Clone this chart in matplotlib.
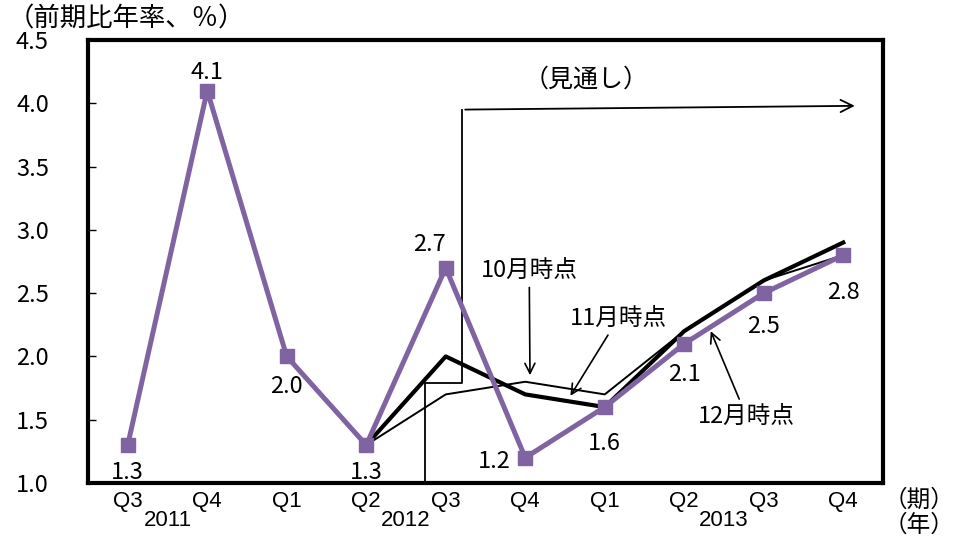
import matplotlib
matplotlib.use('Agg')
import matplotlib.pyplot as plt

plt.rcParams['font.family'] = ['Noto Sans CJK JP', 'DejaVu Sans']

quarters = ['Q3', 'Q4', 'Q1', 'Q2', 'Q3', 'Q4', 'Q1', 'Q2', 'Q3', 'Q4']
years = ['2011', '2012', '2013']
year_pos = [0.5, 3.5, 7.5]

dec = [1.3, 4.1, 2.0, 1.3, 2.7, 1.2, 1.6, 2.1, 2.5, 2.8]   # 12月時点
nov = [1.3, 2.0, 1.7, 1.6, 2.2, 2.6, 2.9]                  # 11月時点 (from 2012 Q2)
oct_ = [1.3, 1.7, 1.8, 1.7, 2.2, 2.6, 2.8]                 # 10月時点 (from 2012 Q2)
start = 3

purple = '#8064A2'
narrow = ['Liberation Sans Narrow', 'Liberation Sans']

fig = plt.figure(figsize=(9.73, 5.39), dpi=100)
ax = fig.add_axes([0.0904, 0.1039, 0.8171, 0.8219])

x = list(range(len(quarters)))
xs = x[start:]
ax.plot(xs, oct_, color='black', lw=1.4, zorder=2)
ax.plot(xs, nov, color='black', lw=3.0, zorder=3)
ax.plot(x, dec, color=purple, lw=3.6, marker='s', markersize=10, zorder=4)

# forecast bracket
ax.plot([3.74, 3.74, 4.21, 4.21], [1.0, 1.79, 1.79, 3.95], color='black', lw=1.3, zorder=1)
ax.annotate('', xy=(9.18, 3.98), xytext=(4.21, 3.95),
            arrowprops=dict(arrowstyle='->', color='black', lw=1.3, mutation_scale=22))
ax.text(5.76, 4.19, '（見通し）', fontsize=18, ha='center', va='center')

# value labels (offsets in points)
offs = [(0, -20), (0, 13), (0, -22), (0, -20), (-12, 17), (-22, -3),
        (0, -26), (0, -22), (0, -24), (0, -27)]
for xi, v, (dx, dy) in zip(x, dec, offs):
    ax.annotate(f'{v:.1f}', xy=(xi, v), xytext=(dx, dy), textcoords='offset points',
                ha='center', va='center', fontsize=17)

# series call-outs
arrow = dict(arrowstyle='->', color='black', lw=1.2, mutation_scale=18)
ax.annotate('10月時点', xy=(5.06, 1.83), xytext=(5.05, 2.68), ha='center', va='center',
            fontsize=17, arrowprops=arrow)
ax.annotate('11月時点', xy=(5.55, 1.67), xytext=(6.17, 2.3), ha='center', va='center',
            fontsize=17, arrowprops=arrow)
ax.annotate('12月時点', xy=(7.32, 2.22), xytext=(7.78, 1.53), ha='center', va='center',
            fontsize=17, arrowprops=arrow)

ax.set_xlim(-0.5, 9.5)
ax.set_ylim(1.0, 4.5)
ax.set_yticks([1.0, 1.5, 2.0, 2.5, 3.0, 3.5, 4.0, 4.5])
ax.set_yticklabels([f'{v:.1f}' for v in ax.get_yticks()], fontsize=17)
ax.tick_params(axis='y', direction='in', length=6, width=1, pad=40)
for lab in ax.get_yticklabels():
    lab.set_horizontalalignment('center')
ax.set_xticks(x)
ax.set_xticklabels(quarters, fontsize=16, family=narrow)
ax.tick_params(axis='x', length=0, pad=6)

for yr, p in zip(years, year_pos):
    ax.text(p, -0.085, yr, transform=ax.get_xaxis_transform(), ha='center', va='center',
            fontsize=16, family=narrow)

for s in ax.spines.values():
    s.set_linewidth(3)

fig.text(0.008, 0.965, '（前期比年率、％）', fontsize=19, ha='left', va='center')
fig.text(0.945, 0.072, '（期）', fontsize=17, ha='center', va='center')
fig.text(0.945, 0.026, '（年）', fontsize=17, ha='center', va='center')

fig.savefig('out.png', dpi=100)
